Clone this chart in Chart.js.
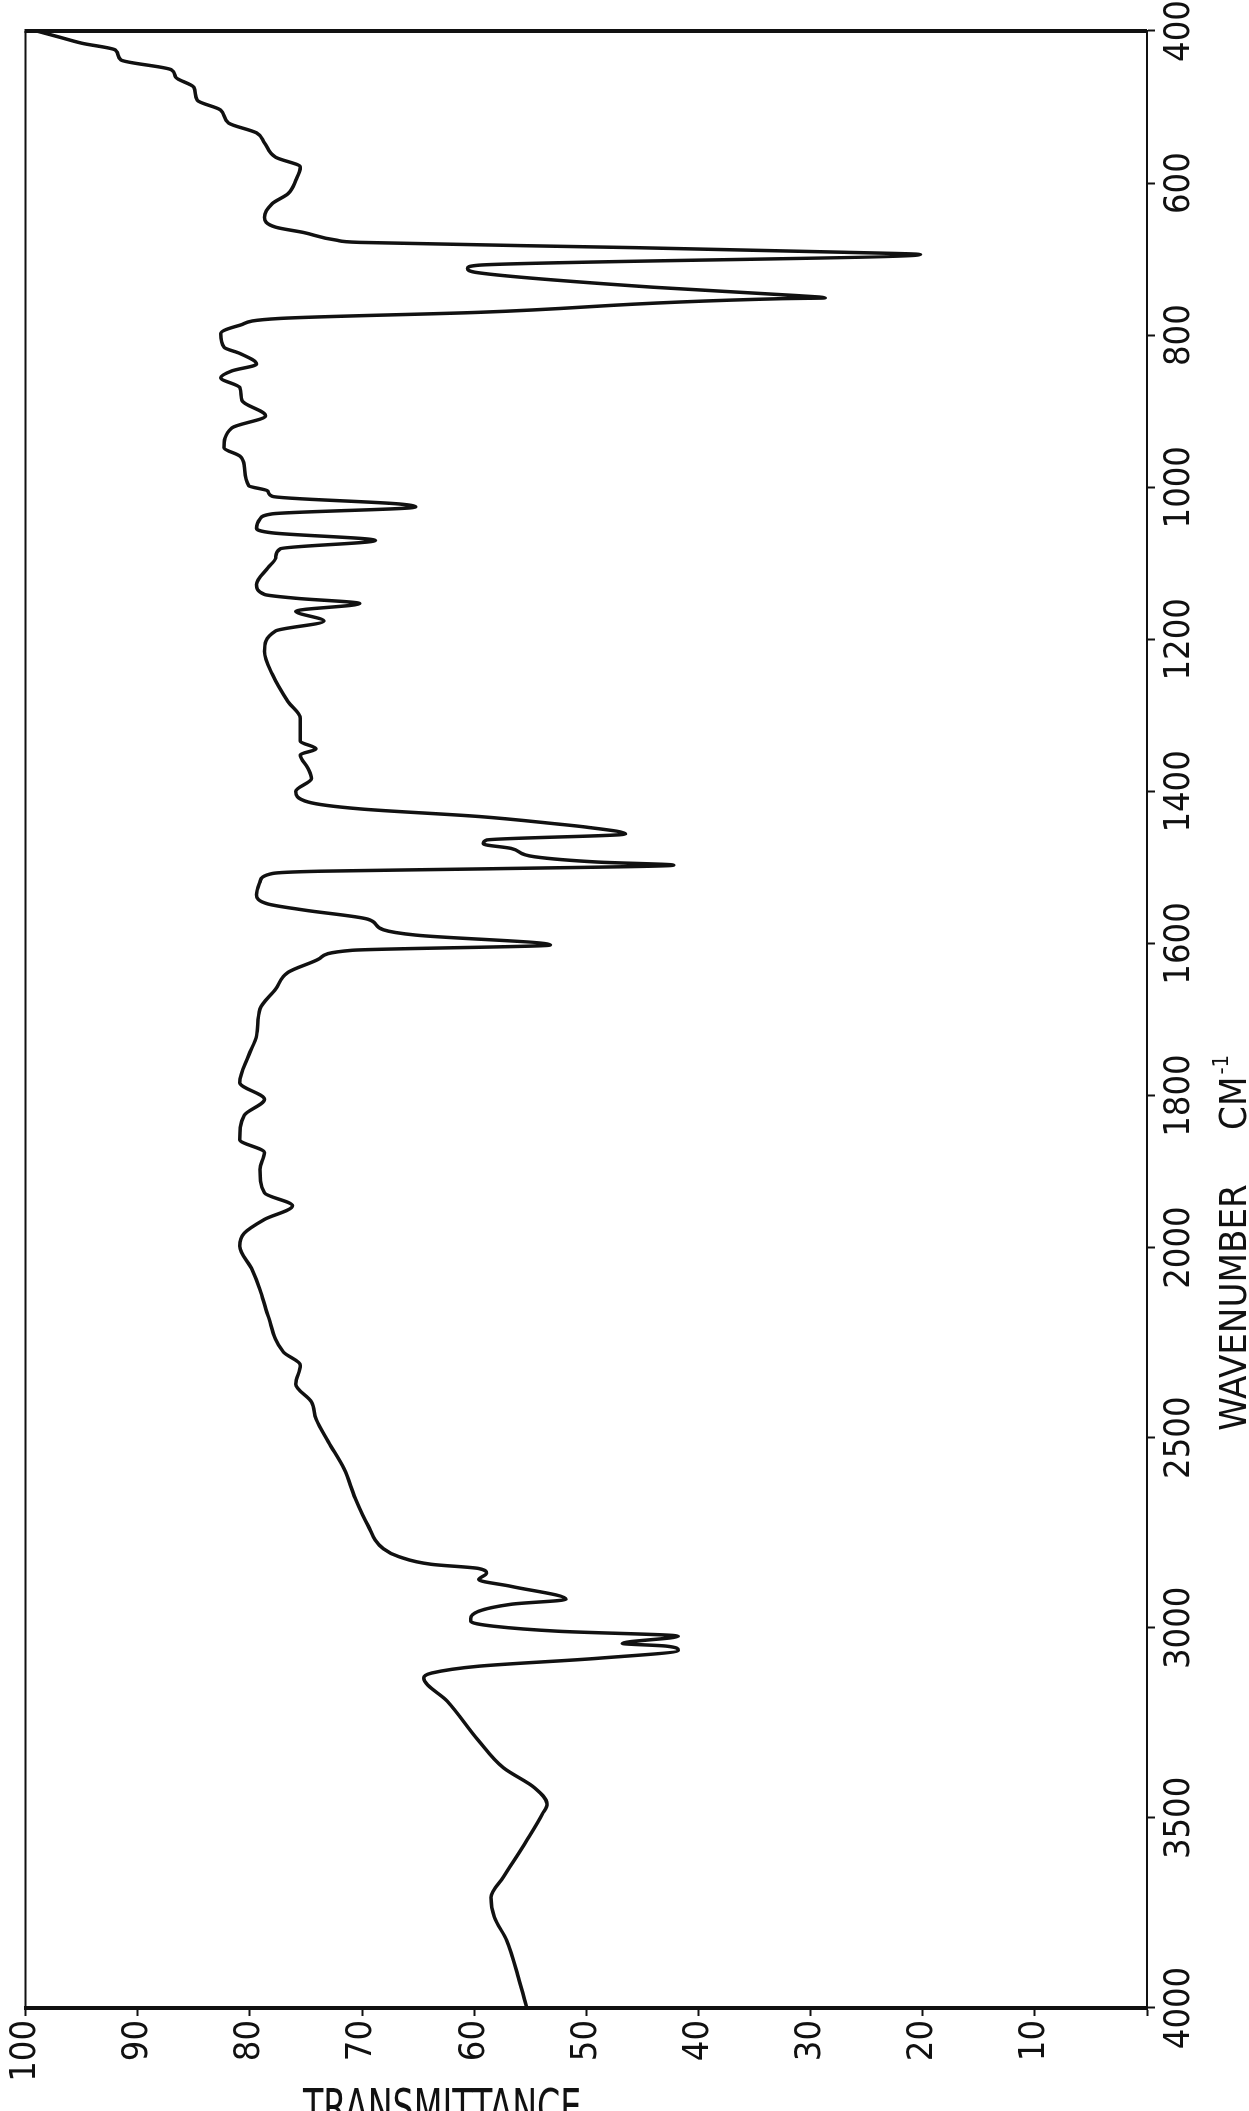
<!DOCTYPE html>
<html>
<head>
<meta charset="utf-8">
<script src="https://cdn.jsdelivr.net/npm/chart.js@4.4.1/dist/chart.umd.min.js"></script>
<style>
  html, body { margin: 0; padding: 0; background: #fff; }
  body { width: 1249px; height: 2111px; overflow: hidden; position: relative; }
  /* chart is drawn the usual way round, then turned 90deg anticlockwise like the scan */
  #turn { position: absolute; left: 0; top: 0; width: 2111px; height: 1249px;
          transform-origin: 0 0; transform: translate(0, 2111px) rotate(-90deg); }
  #tlabel { position: absolute; left: 303px; top: 2078px; margin: 0;
            font: 37px "Liberation Sans Narrow", "DejaVu Sans Condensed", sans-serif;
            color: #111; transform: scaleY(1.35); transform-origin: 0 0; }
</style>
</head>
<body>
<div id="turn"><canvas id="ir" width="2111" height="1249"></canvas></div>
<div id="tlabel">TRANSMITTANCE</div>
<script>
const fontFamily = '"Liberation Sans Narrow", "DejaVu Sans Condensed", sans-serif';

// wavenumber (cm-1)
const wavenumbers = [
  400, 408, 416, 425, 438, 451, 461, 474, 491, 504,
  521, 534, 547, 566, 579, 596, 614, 627, 645, 658,
  665, 675, 678, 685, 691, 694, 708, 712, 718, 737,
  748, 751, 752, 770, 778, 787, 798, 816, 824, 838,
  847, 856, 869, 886, 906, 922, 948, 959, 972, 998,
  1005, 1012, 1022, 1026, 1035, 1042, 1054, 1060, 1070, 1081,
  1093, 1106, 1128, 1141, 1146, 1153, 1163, 1176, 1189, 1216,
  1246, 1282, 1304, 1334, 1344, 1352, 1370, 1383, 1400, 1414,
  1423, 1433, 1443, 1447, 1456, 1464, 1469, 1475, 1486, 1493,
  1497, 1502, 1505, 1508, 1519, 1536, 1548, 1556, 1568, 1582,
  1589, 1602, 1609, 1620, 1638, 1660, 1686, 1721, 1747, 1783,
  1805, 1826, 1858, 1875, 1897, 1928, 1945, 1963, 1981, 1998,
  2058, 2110, 2178, 2275, 2309, 2359, 2406, 2451, 2511, 2582,
  2660, 2729, 2792, 2813, 2833, 2844, 2857, 2873, 2891, 2925,
  2938, 2975, 2983, 2996, 3009, 3022, 3041, 3048, 3059, 3080,
  3101, 3119, 3132, 3193, 3297, 3368, 3421, 3463, 3489, 3559,
  3656, 3709, 3761, 3822, 3926, 4000
];

// % transmittance at each wavenumber above
const transmittance = [
  99, 97, 95, 92, 91.5, 87, 86.6, 85, 84.7, 82.6,
  81.9, 79.4, 78.7, 77.7, 75.5, 75.9, 76.6, 78, 78.7, 77.7,
  75.2, 72.3, 70.2, 45.4, 27, 20.2, 59.6, 60.6, 59.6, 44,
  31.2, 28.7, 32.6, 59.6, 77.3, 80.9, 82.6, 82.3, 80.9, 79.4,
  81.6, 82.6, 80.9, 80.7, 78.6, 81.6, 82.3, 80.9, 80.5, 80.1,
  78.4, 78, 66.7, 65.2, 78, 79.1, 79.4, 78, 68.8, 77.3,
  77.7, 78.4, 79.4, 78.7, 75.9, 70.2, 75.9, 73.4, 77.7, 78.7,
  78, 76.6, 75.5, 75.5, 74.1, 75.5, 74.8, 74.5, 75.9, 74.8,
  70.2, 59.6, 52.5, 50, 46.5, 58.9, 59.2, 56.7, 54.6, 48.9,
  42.2, 59.6, 73.8, 78, 79.1, 79.4, 78.4, 75.2, 69.5, 68.1,
  65.2, 53.2, 70.9, 73.8, 76.6, 77.7, 79.1, 79.4, 80.1, 80.9,
  78.7, 80.5, 80.9, 78.7, 79.1, 78.7, 76.2, 78.7, 80.5, 80.9,
  79.8, 79.1, 78.4, 77, 75.5, 75.9, 74.5, 74.1, 73, 71.6,
  70.6, 69.5, 68.1, 66.7, 63.8, 59.6, 58.9, 59.6, 56.7, 51.8,
  56.7, 60.3, 60.3, 58.2, 52.5, 41.8, 46.8, 42.9, 41.8, 48.9,
  59.6, 63.8, 64.5, 62.4, 59.6, 57.4, 54.6, 53.5, 53.9, 55.3,
  57.4, 58.5, 58.2, 57.1, 56, 55.3
];

const waveTicks = [400, 600, 800, 1000, 1200, 1400, 1600, 1800, 2000, 2500, 3000, 3500, 4000];
const transTicks = [0, 10, 20, 30, 40, 50, 60, 70, 80, 90, 100];

// IR paper: above 2000 cm-1 the scale is squeezed to half
const fold = v => (v <= 2000 ? v : 2000 + (v - 2000) / 2);
const unfold = p => (p <= 2000 ? p : 2000 + (p - 2000) * 2);

class WaveScale extends Chart.LinearScale {
  buildTicks() {
    return waveTicks.map(v => ({ value: v }));
  }
  getPixelForValue(value) {
    const a = fold(this.min), b = fold(this.max);
    return this.getPixelForDecimal((fold(value) - a) / (b - a));
  }
  getValueForPixel(pixel) {
    const a = fold(this.min), b = fold(this.max);
    return unfold(a + this.getDecimalForPixel(pixel) * (b - a));
  }
}
WaveScale.id = 'wave';
Chart.register(WaveScale);

// closes the box on the two sides that have no axis
const frame = {
  id: 'frame',
  afterDatasetsDraw(chart) {
    const { ctx, chartArea: a } = chart;
    ctx.save();
    ctx.strokeStyle = '#111';
    ctx.lineWidth = 4;
    ctx.beginPath(); ctx.moveTo(a.right, a.top - 1); ctx.lineTo(a.right, a.bottom); ctx.stroke();
    ctx.lineWidth = 2;
    ctx.beginPath(); ctx.moveTo(a.left, a.top); ctx.lineTo(a.right, a.top); ctx.stroke();
    ctx.restore();
  }
};

// axis title sits off-centre on the original, so it is drawn here
const waveTitle = {
  id: 'waveTitle',
  afterDraw(chart) {
    const ctx = chart.ctx;
    const xs = chart.scales.x;
    const main = 'WAVENUMBER', gap = '     ', unit = 'CM', sup = '-1';
    ctx.save();
    ctx.fillStyle = '#111';
    ctx.textBaseline = 'alphabetic';
    ctx.font = '38px ' + fontFamily;
    const w1 = ctx.measureText(main + gap + unit).width;
    ctx.font = '22px ' + fontFamily;
    const w2 = ctx.measureText(sup).width;
    const x = xs.getPixelForValue(1995) - (w1 + w2) / 2;
    const y = xs.bottom - 3;
    ctx.font = '38px ' + fontFamily;
    ctx.fillText(main + gap + unit, x, y);
    ctx.font = '22px ' + fontFamily;
    ctx.fillText(sup, x + w1 + 2, y - 18);
    ctx.restore();
  }
};

const points = wavenumbers.map((w, i) => ({ x: w, y: transmittance[i] }));

new Chart(document.getElementById('ir'), {
  type: 'line',
  data: {
    datasets: [{
      data: points,
      borderColor: '#111',
      borderWidth: 3.5,
      pointRadius: 0,
      fill: false,
      cubicInterpolationMode: 'monotone'
    }]
  },
  options: {
    responsive: false,
    animation: false,
    layout: { padding: { top: 24, right: 31, left: 0, bottom: 0 } },
    plugins: { legend: { display: false }, tooltip: { enabled: false } },
    scales: {
      x: {
        type: 'wave',
        position: 'bottom',
        min: 400,
        max: 4000,
        reverse: true,
        afterFit: s => { s.height = 102; },
        border: { display: true, color: '#111', width: 2 },
        grid: { display: true, drawOnChartArea: false, drawTicks: true, tickLength: 8, tickWidth: 2, tickColor: '#111' },
        ticks: {
          autoSkip: false, minRotation: 0, maxRotation: 0, padding: 3, color: '#111',
          font: { family: fontFamily, size: 36 },
          callback: v => String(v)
        }
      },
      y: {
        type: 'linear',
        position: 'left',
        min: 0,
        max: 100,
        afterFit: s => { s.width = 103; },
        afterBuildTicks: s => { s.ticks = transTicks.map(v => ({ value: v })); },
        border: { display: true, color: '#111', width: 4 },
        grid: { display: true, drawOnChartArea: false, drawTicks: true, tickLength: 8, tickWidth: 2, tickColor: '#111' },
        ticks: {
          padding: 4, color: '#111',
          font: { family: fontFamily, size: 36 },
          callback: v => (v === 0 ? '' : String(v))
        }
      }
    }
  },
  plugins: [frame, waveTitle]
});
</script>
</body>
</html>
